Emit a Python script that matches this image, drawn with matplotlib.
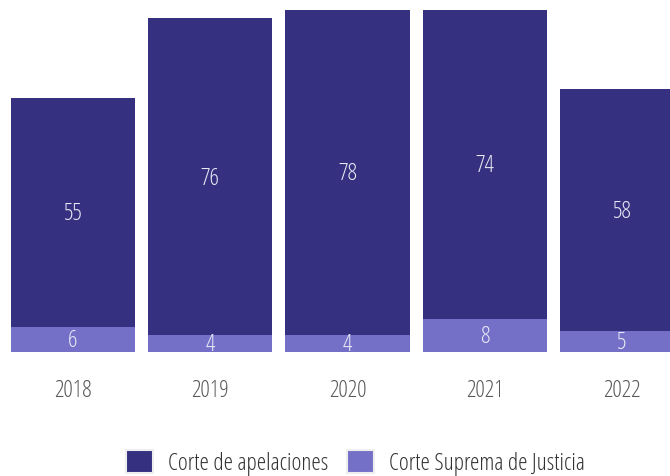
import matplotlib
matplotlib.use("Agg")
import matplotlib.pyplot as plt

# light condensed Open Sans, falling back to the regular face
plt.rcParams["font.family"] = ["Open Sans", "DejaVu Sans"]
plt.rcParams["font.stretch"] = "condensed"
plt.rcParams["font.weight"] = 300

years = ["2018", "2019", "2020", "2021", "2022"]
apelaciones = [55, 76, 78, 74, 58]
suprema = [6, 4, 4, 8, 5]

dark = "#35307f"
light = "#7570c7"
fs = 17
nudge = -0.4  # digits have no descender, drop them a touch to look centred

fig = plt.figure(figsize=(6.7, 4.76), dpi=100)
ax = fig.add_axes([0, 124 / 476, 1, 352 / 476])
x = list(range(len(years)))
ax.bar(x, suprema, width=0.905, color=light)
ax.bar(x, apelaciones, width=0.905, bottom=suprema, color=dark)

for i in x:
    ax.text(i, suprema[i] / 2 + nudge, str(suprema[i]), ha="center", va="center",
            color="#e8e8f5", fontsize=fs)
    ax.text(i, suprema[i] + apelaciones[i] / 2 + nudge, str(apelaciones[i]), ha="center",
            va="center", color="#e8e8f5", fontsize=fs)
    ax.text(i, -9.3, years[i], ha="center", va="center", color="#595959", fontsize=fs)

ax.set_xlim(-0.532, 4.35)
ax.set_ylim(0, 84.4)
ax.axis("off")

handles = [plt.Rectangle((0, 0), 1, 1, facecolor=dark, edgecolor="#eeeeee", linewidth=1.5),
           plt.Rectangle((0, 0), 1, 1, facecolor=light, edgecolor="#eeeeee", linewidth=1.5)]
fig.legend(handles, ["Corte de apelaciones", "Corte Suprema de Justicia"],
           loc="center", bbox_to_anchor=(0.53, 0.028), ncol=2, frameon=False,
           fontsize=fs, labelcolor="#333333", handlelength=1.15, handleheight=1.15,
           handletextpad=0.62, columnspacing=0.8, borderpad=0, borderaxespad=0)

fig.savefig("out.png")
